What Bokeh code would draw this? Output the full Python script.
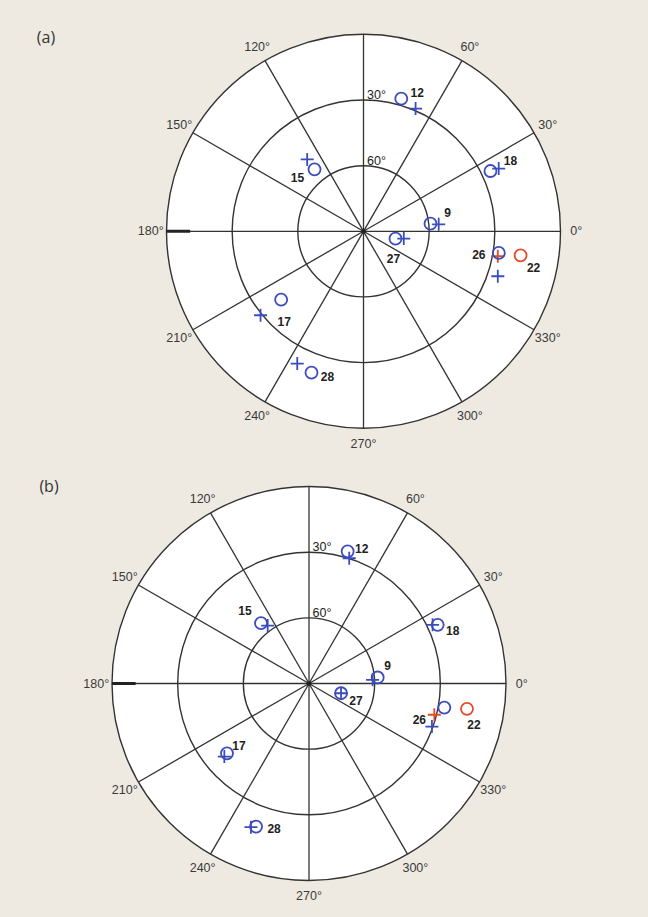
import numpy as np
from bokeh.plotting import figure
from bokeh.layouts import column
from bokeh.models import Range1d, Label, ColumnDataSource
from bokeh.core.properties import value
from bokeh.embed import file_html
from bokeh.resources import INLINE

# ---------------- data ----------------
sats = ["9", "12", "15", "17", "18", "22", "26", "27", "28"]
sat_colors = ["blue", "blue", "blue", "blue", "blue", "red", "blue", "blue", "blue"]

# panel (a): azimuth (deg) / elevation (deg)
a_circle_az = [6.5, 74.1, 128.3, 219.7, 25.4, 351.3, 350.9, 347.1, 249.8]
a_circle_el = [59.2, 27.0, 53.9, 41.1, 25.8, 17.4, 27.4, 75.0, 21.2]
a_plus_az = [5.3, 67.0, 128.1, 219.2, 24.9, 349.5, 341.5, 349.7, 243.4]
a_plus_el = [55.5, 29.1, 48.3, 29.3, 21.9, 27.6, 25.3, 71.3, 22.4]

# panel (b)
b_circle_az = [5.0, 73.7, 128.5, 220.4, 24.5, 350.9, 349.9, 343.1, 249.7]
b_circle_el = [58.5, 27.1, 54.8, 40.8, 25.4, 16.9, 27.2, 74.7, 20.3]
b_plus_az = [3.3, 72.2, 125.5, 220.8, 25.4, 346.0, 340.7, 343.1, 248.0]
b_plus_el = [60.9, 29.9, 57.5, 38.9, 27.5, 31.0, 30.5, 74.7, 19.2]

azimuth_ticks = [0, 30, 60, 120, 150, 180, 210, 240, 270, 300, 330]
azimuth_labels = ["0°", "30°", "60°", "120°", "150°", "180°", "210°", "240°", "270°", "300°", "330°"]
elev_rings = [60, 30, 0]
elev_ring_labels = ["60°", "30°"]

# label offsets in screen px (dx right, dy down), relative to circle marker
a_label_off = {"9": (17, -11), "12": (16, -6), "15": (-17, 8), "17": (3, 22), "18": (20, -11),
               "22": (13, 12), "26": (-20, 2), "27": (-2, 20), "28": (16, 4)}
b_label_off = {"9": (10, -12), "12": (14, -3), "15": (-16, -13), "17": (12, -8), "18": (15, 6),
               "22": (7, 16), "26": (-25, 12), "27": (15, 7), "28": (18, 2)}

# ---------------- style ----------------
BG = "#EEEAE1"
GRID = "#333333"
BLUE = "#3B4DBE"
RED = "#E5492A"
COLMAP = {"blue": BLUE, "red": RED}
R_PX = 197.0
FONT = "Liberation Sans"


def to_xy(az, el):
    az = np.radians(np.asarray(az, dtype=float))
    r = (90.0 - np.asarray(el, dtype=float)) / 90.0
    return r * np.cos(az), r * np.sin(az)


def panel(w, h, cx, cy, tag, c_az, c_el, p_az, p_el, offs):
    p = figure(width=w, height=h, output_backend="svg", toolbar_location=None,
               x_range=Range1d(-cx / R_PX, (w - cx) / R_PX),
               y_range=Range1d(-(h - cy) / R_PX, cy / R_PX),
               min_border=0, outline_line_color=None)
    p.axis.visible = False
    p.grid.visible = False
    p.background_fill_color = BG
    p.border_fill_color = BG

    # disk
    p.circle(x=0, y=0, radius=1.0, fill_color="white", line_color=None)
    # spokes
    ang = np.radians(np.arange(0, 360, 30))
    p.segment(x0=np.zeros(len(ang)), y0=np.zeros(len(ang)), x1=np.cos(ang), y1=np.sin(ang),
              line_color=GRID, line_width=1.3)
    # rings
    rr = [(90 - e) / 90 for e in elev_rings]
    p.circle(x=[0] * len(rr), y=[0] * len(rr), radius=rr, fill_color=None,
             line_color=GRID, line_width=1.4)
    # tick at 180
    p.segment(x0=[-1.0], y0=[0], x1=[-0.88], y1=[0], line_color="#222222", line_width=3)
    # center dot
    p.scatter(x=[0], y=[0], size=4, color="#222222")

    # azimuth labels
    ta = np.radians(azimuth_ticks)
    p.text(x=1.08 * np.cos(ta), y=1.08 * np.sin(ta), text=azimuth_labels,
           text_align="center", text_baseline="middle", text_font=value(FONT),
           text_font_size="12.5px", text_color="#3a3a3a")
    # elevation ring labels
    er = [(90 - e) / 90 for e in elev_rings[:2]]
    p.text(x=[0, 0], y=er, text=elev_ring_labels, x_offset=13, y_offset=-5,
           text_align="center", text_baseline="middle", text_font=value(FONT),
           text_font_size="12.5px", text_color="#222222")

    cols = [COLMAP[c] for c in sat_colors]
    cxs, cys = to_xy(c_az, c_el)
    pxs, pys = to_xy(p_az, p_el)
    p.scatter(x=pxs, y=pys, marker="cross", size=13, line_color=cols, line_width=1.8)
    p.scatter(x=cxs, y=cys, marker="circle", size=12, fill_color=None, line_color=cols,
              line_width=1.8)

    src = ColumnDataSource(dict(x=cxs, y=cys, text=sats,
                                dx=[offs[s][0] for s in sats], dy=[offs[s][1] for s in sats]))
    p.text(x="x", y="y", text="text", x_offset="dx", y_offset="dy", source=src,
           text_align="center", text_baseline="middle", text_font=value(FONT),
           text_font_style="bold", text_font_size="12px", text_color="#222222")

    p.add_layout(Label(x=tag[1], y=h - tag[2], x_units="screen", y_units="screen",
                       text=tag[0], text_align="center", text_baseline="middle",
                       text_font="Open Sans", text_font_size="16px", text_color="#333333"))
    return p


pa = panel(648, 458, 363.0, 230.8, ("(a)", 45.5, 36), a_circle_az, a_circle_el,
           a_plus_az, a_plus_el, a_label_off)
pb = panel(648, 459, 308.5, 225.0, ("(b)", 48.5, 27), b_circle_az, b_circle_el,
           b_plus_az, b_plus_el, b_label_off)

layout = column(pa, pb, spacing=0)
html = file_html(layout, INLINE)
html = html.replace("</head>", "<style>html, body { background: %s; }</style></head>" % BG, 1)
open("out.html", "w").write(html)
